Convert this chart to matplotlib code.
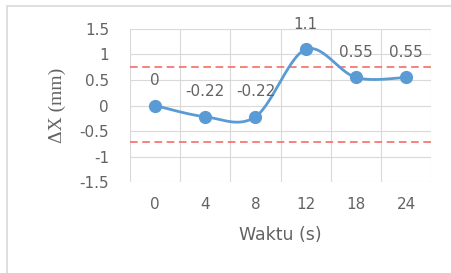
import numpy as np
import matplotlib
matplotlib.use("Agg")
import matplotlib.pyplot as plt
from matplotlib.patches import Rectangle

# data
waktu = ['0', '4', '8', '12', '18', '24']
delta_x = [0, -0.22, -0.22, 1.1, 0.55, 0.55]
labels = ['0', '-0.22', '-0.22', '1.1', '0.55', '0.55']
batas_atas = 0.75
batas_bawah = -0.72


def smooth(xs, ys, n=30):
    # Catmull-Rom style bezier, similar to Excel "smoothed line"
    xs = np.asarray(xs, float)
    ys = np.asarray(ys, float)
    px = np.concatenate([[xs[0]], xs, [xs[-1]]])
    py = np.concatenate([[ys[0]], ys, [ys[-1]]])
    out_x, out_y = [], []
    t = np.linspace(0, 1, n)
    for i in range(1, len(px) - 2):
        p0 = np.array([px[i], py[i]])
        p3 = np.array([px[i + 1], py[i + 1]])
        c1 = p0 + (np.array([px[i + 1], py[i + 1]]) - np.array([px[i - 1], py[i - 1]])) / 6
        c2 = p3 - (np.array([px[i + 2], py[i + 2]]) - np.array([px[i], py[i]])) / 6
        for tt in t:
            b = ((1 - tt) ** 3) * p0 + 3 * ((1 - tt) ** 2) * tt * c1 + 3 * (1 - tt) * tt ** 2 * c2 + tt ** 3 * p3
            out_x.append(b[0])
            out_y.append(b[1])
    return out_x, out_y


# the source picture is stretched sideways, so a wide font fits it best
plt.rcParams['font.family'] = ['DejaVu Sans']

fig = plt.figure(figsize=(4.51, 2.73), dpi=100)
fig.patches.append(Rectangle((7 / 451, -0.1), 1.2, 1 - 6 / 273 + 0.1, transform=fig.transFigure,
                             fill=False, edgecolor='#d9d9d9', linewidth=1.2))

ax = fig.add_axes([0.288, 0.333, 0.668, 0.561])
x = np.arange(len(waktu))

sx, sy = smooth(x, delta_x)
ax.plot(sx, sy, color='#5b9bd5', linewidth=2, zorder=3)
ax.plot(x, delta_x, 'o', color='#5b9bd5', markersize=8.5, zorder=4)

ax.axhline(batas_atas, color='#f4615a', linestyle=(0, (5, 3)), linewidth=1.1, zorder=2)
ax.axhline(batas_bawah, color='#f4615a', linestyle=(0, (5, 3)), linewidth=1.1, zorder=2)

for xi, yi, lab in zip(x, delta_x, labels):
    ax.annotate(lab, (xi, yi), xytext=(0, 18), textcoords='offset points',
                ha='center', va='center', fontsize=11, color='#636363', zorder=5)

ax.set_xlim(-0.5, len(waktu) - 0.5)
ax.set_ylim(-1.5, 1.5)
ax.set_yticks(np.arange(-1.5, 1.51, 0.5))
ax.set_yticklabels(['-1.5', '-1', '-0.5', '0', '0.5', '1', '1.5'])
ax.set_xticks(x)
ax.set_xticklabels(waktu)
ax.set_xticks(np.arange(-0.5, len(waktu), 1), minor=True)

ax.grid(True, axis='y', which='major', color='#d9d9d9', linewidth=0.8)
ax.grid(True, axis='x', which='minor', color='#d9d9d9', linewidth=0.8)
ax.set_axisbelow(True)
for s in ax.spines.values():
    s.set_visible(False)
ax.tick_params(which='both', length=0, labelsize=11, colors='#636363')
ax.tick_params(axis='y', pad=15)
ax.tick_params(axis='x', pad=11)

ax.set_xlabel('Waktu (s)', fontsize=12.5, color='#636363', labelpad=10)
ax.set_ylabel('ΔX (mm)', fontsize=14, color='#636363', family='Liberation Serif', labelpad=10)

fig.savefig('out.png', dpi=100)
